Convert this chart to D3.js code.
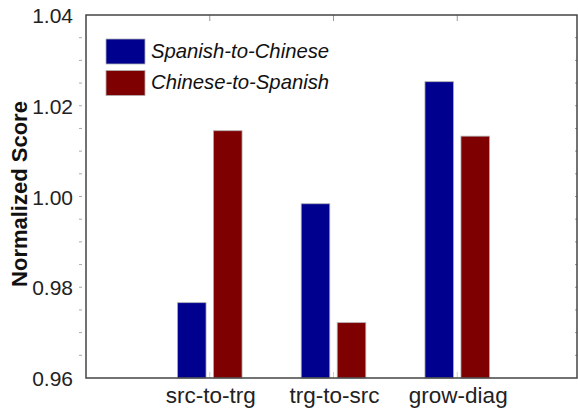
<!DOCTYPE html>
<html lang="en">

<head>
  <meta charset="UTF-8" />
  <script src="https://d3js.org/d3.v7.min.js"></script>
  <style>
    body {
      margin: 0;
      background-color: #fff;
      overflow: hidden;
    }

    svg {
      display: block;
      font-family: Arial, "Liberation Sans", sans-serif;
    }
  </style>
</head>

<body>
  <svg width="578" height="410"></svg>

  <script>
    const categories = ["src-to-trg", "trg-to-src", "grow-diag"];
    const seriesNames = ["Spanish-to-Chinese", "Chinese-to-Spanish"];
    const spanishToChinese = [0.9766, 0.9984, 1.0253];
    const chineseToSpanish = [1.0145, 0.9722, 1.0133];
    const yTicks = [0.96, 0.98, 1.00, 1.02, 1.04];
    const colors = ["#00008f", "#7f0000"];

    const svg = d3.select("svg");
    const plotL = 86, plotR = 577, plotT = 15, plotB = 378;

    // categories sit at 1, 2, 3 on a 0..4 axis
    const x = d3.scaleLinear().domain([0, 4]).range([plotL, 581]);
    const y = d3.scaleLinear().domain([0.96, 1.04]).range([plotB, plotT]);

    const barW = x(0.231) - x(0);
    const off = x(0.03) - x(0);

    const series = [spanishToChinese, chineseToSpanish];
    const rows = [];
    series.forEach((vals, s) => {
      vals.forEach((v, i) => rows.push({ s, i, v }));
    });

    svg.selectAll("rect.bar")
      .data(rows)
      .join("rect")
      .attr("class", "bar")
      .attr("x", d => d.s === 0 ? x(d.i + 1) - off - barW : x(d.i + 1) + off)
      .attr("y", d => y(d.v))
      .attr("width", barW)
      .attr("height", d => y(0.96) - y(d.v))
      .attr("fill", d => colors[d.s])
      .attr("stroke", "#b0b0b0")
      .attr("stroke-width", 0.8);

    // minor ticks every 0.005
    const minor = d3.range(0.965, 1.0375, 0.005);
    svg.selectAll("line.rt")
      .data(minor)
      .join("line")
      .attr("class", "rt")
      .attr("x1", plotR - 2).attr("x2", plotR)
      .attr("y1", d => y(d)).attr("y2", d => y(d))
      .attr("stroke", "#999");
    svg.selectAll("line.lt")
      .data(minor)
      .join("line")
      .attr("class", "lt")
      .attr("x1", plotL - 7).attr("x2", plotL - 4)
      .attr("y1", d => y(d)).attr("y2", d => y(d))
      .attr("stroke", "#aaa");

    // category ticks top and bottom
    categories.forEach((c, i) => {
      svg.append("line")
        .attr("x1", x(i + 1)).attr("x2", x(i + 1))
        .attr("y1", plotT).attr("y2", plotT + 6)
        .attr("stroke", "#999");
      svg.append("line")
        .attr("x1", x(i + 1)).attr("x2", x(i + 1))
        .attr("y1", plotB).attr("y2", plotB - 6)
        .attr("stroke", "#ccc");
    });

    // frame
    svg.append("rect")
      .attr("x", plotL).attr("y", plotT)
      .attr("width", plotR - plotL).attr("height", plotB - plotT)
      .attr("fill", "none")
      .attr("stroke", "#444")
      .attr("stroke-width", 1.5);

    svg.selectAll("text.ytick")
      .data(yTicks)
      .join("text")
      .attr("class", "ytick")
      .attr("x", 73)
      .attr("y", d => y(d) + 8)
      .attr("text-anchor", "end")
      .attr("font-size", 21)
      .attr("fill", "#222")
      .text(d => d.toFixed(2));

    svg.selectAll("text.xtick")
      .data(categories)
      .join("text")
      .attr("class", "xtick")
      .attr("x", (d, i) => x(i + 1) + 1)
      .attr("y", 403)
      .attr("text-anchor", "middle")
      .attr("font-size", 22.5)
      .attr("fill", "#222")
      .text(d => d);

    svg.append("text")
      .attr("transform", "translate(27,194) rotate(-90)")
      .attr("text-anchor", "middle")
      .attr("font-size", 22)
      .attr("font-weight", "bold")
      .attr("fill", "#111")
      .text("Normalized Score");

    // legend
    const lg = svg.append("g");
    seriesNames.forEach((n, s) => {
      lg.append("rect")
        .attr("x", 106).attr("y", 39 + s * 31.5)
        .attr("width", 39).attr("height", 25)
        .attr("fill", colors[s])
        .attr("stroke", "#b0b0b0")
        .attr("stroke-width", 0.8);
      lg.append("text")
        .attr("x", 151).attr("y", 57.5 + s * 31)
        .attr("font-size", 20.3)
        .attr("font-style", "italic")
        .attr("fill", "#111")
        .text(n);
    });
  </script>
</body>

</html>
